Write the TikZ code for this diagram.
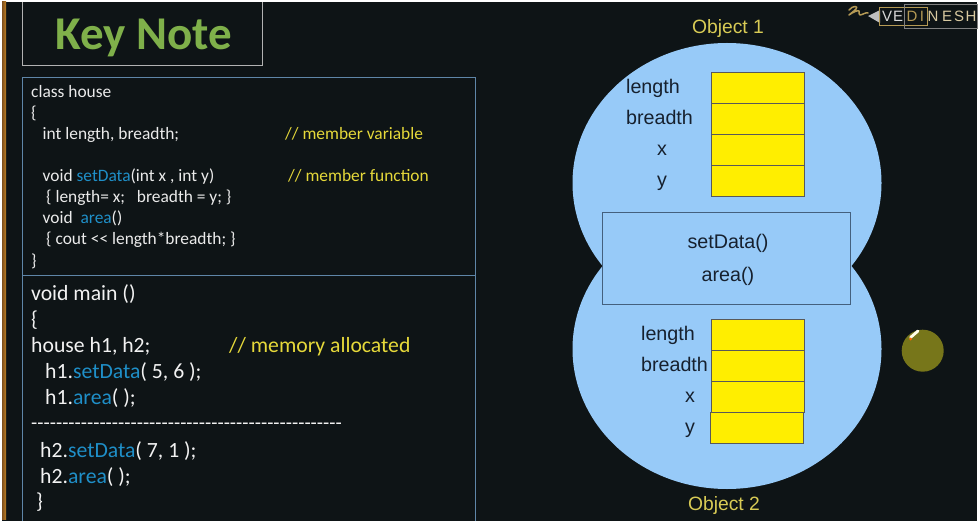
\documentclass[tikz,border=0pt]{standalone}
\usepackage{fontspec}
\setmainfont{Carlito}
\newfontfamily\arialfont{Liberation Sans}
\definecolor{bgdark}{HTML}{0E1416}
\definecolor{stripe}{HTML}{B5722A}
\definecolor{boxline}{HTML}{5F86A8}
\definecolor{midline}{HTML}{44607E}
\definecolor{keygreen}{HTML}{7FB04A}
\definecolor{codeblue}{HTML}{1F8FC8}
\definecolor{codeyellow}{HTML}{E6D93A}
\definecolor{objyellow}{HTML}{D8CB55}
\definecolor{skyblue}{HTML}{97CAF8}
\definecolor{cellyellow}{HTML}{FFEE00}
\definecolor{labeltext}{HTML}{16202E}
\definecolor{pointer}{HTML}{77761A}
\definecolor{logogold}{HTML}{B59A55}
\definecolor{logotan}{HTML}{D8C9A0}
\tikzset{
  codeA/.style={anchor=base west,inner sep=0pt,text=white!92!black,font=\fontsize{17.4}{17.4}\selectfont},
  codeB/.style={anchor=base west,inner sep=0pt,text=white!95!black,font=\fontsize{21.7}{21.7}\selectfont},
  objlabel/.style={anchor=base,inner sep=0pt,text=labeltext,font=\arialfont\fontsize{19.7}{19.7}\selectfont},
  objtitle/.style={anchor=base,inner sep=0pt,text=objyellow,font=\arialfont\fontsize{19.3}{19.3}\selectfont},
  cell/.style={draw=black!65,line width=0.7pt,fill=cellyellow,minimum width=93pt,minimum height=31pt,inner sep=0pt},
  panel/.style={draw=boxline,line width=0.9pt},
  logoch/.style={anchor=base,inner sep=0pt,font=\arialfont\fontsize{15}{15}\selectfont}
}
\newcommand{\cb}[1]{\textcolor{codeblue}{#1}}
\begin{document}
\begin{tikzpicture}[x=1pt,y=-1pt]
\useasboundingbox (0,0) rectangle (979,521);
\fill[white] (0,0) rectangle (979,521);
\fill[bgdark] (2,2) rectangle (977,521);
\shade[left color=stripe!70!black,right color=stripe!90!yellow] (2,2) rectangle (6,519);
% Title
\draw[white!70!black,line width=0.8pt] (22.5,2) -- (22.5,65.5) -- (262.5,65.5) -- (262.5,2);
\node[anchor=base,inner sep=0pt,text=keygreen,font=\fontsize{47}{47}\selectfont\bfseries] (keynote) at (143.5,50) {Key Note};
% Code panels
\draw[panel] (22.5,521) -- (22.5,77.5) -- (475.5,77.5) -- (475.5,521);
\draw[panel] (22.5,275) -- (475.5,275);
\node[codeA] (a1) at (31,98) {class house};
\node[codeA] (a2) at (31,119) {\{};
\node[codeA] (a3) at (42.5,140) {int length, breadth;};
\node[codeA,text=codeyellow] (a3c) at (285,140) {// member variable};
\node[codeA] (a4) at (42.5,182) {void \cb{setData}(int x , int y)};
\node[codeA,text=codeyellow] (a4c) at (288,182) {// member function};
\node[codeA] (a5) at (46,203) {\{ length= x;\ \ \ breadth = y; \}};
\node[codeA] (a6) at (42.5,224) {void\ \ \cb{area}()};
\node[codeA] (a7) at (46,245) {\{ cout <{}< length*breadth; \}};
\node[codeA] (a8) at (31,266) {\}};
\node[codeB] (b1) at (31,300) {void main ()};
\node[codeB] (b2) at (31,326) {\{};
\node[codeB] (b3) at (31,352) {house h1, h2;};
\node[codeB,text=codeyellow] (b3c) at (229,352) {// memory allocated};
\node[codeB] (b4) at (45,378) {h1.\cb{setData}( 5, 6 );};
\node[codeB] (b5) at (45,404) {h1.\cb{area}( );};
\node[codeB,font=\fontsize{20.3}{20.3}\selectfont] (b6) at (31,429.5) {-{}-{}-{}-{}-{}-{}-{}-{}-{}-{}-{}-{}-{}-{}-{}-{}-{}-{}-{}-{}-{}-{}-{}-{}-{}-{}-{}-{}-{}-{}-{}-{}-{}-{}-{}-{}-{}-{}-{}-{}-{}-{}-{}-{}-{}-{}-{}-{}-{}-{}};
\node[codeB] (b7) at (40,457) {h2.\cb{setData}( 7, 1 );};
\node[codeB] (b8) at (40,483) {h2.\cb{area}( );};
\node[codeB] (b9) at (36,508) {\}};
% Objects
\node[objtitle] (o1) at (728,34) {Object 1};
\node[objtitle] (o2) at (724,510.5) {Object 2};
\fill[skyblue] (727,183) ellipse (154.5 and 140);
\fill[skyblue] (727,349) ellipse (154.5 and 140);
\node[cell] (c1) at (758.3,88) {};
\node[cell] (c2) at (758.3,119) {};
\node[cell] (c3) at (758.3,150) {};
\node[cell] (c4) at (757.8,181) {};
\node[objlabel] (l1) at (653,94) {length};
\node[objlabel] (l2) at (659.5,125) {breadth};
\node[objlabel] (l3) at (662,156) {x};
\node[objlabel] (l4) at (662,187) {y};
\node[draw=midline,line width=0.9pt,fill=skyblue,minimum width=248pt,minimum height=92pt,inner sep=0pt] (mid) at (726.8,258) {};
\node[objlabel] (f1) at (728,248) {setData()};
\node[objlabel] (f2) at (728,281) {area()};
\node[cell] (d1) at (757.8,335.3) {};
\node[cell] (d2) at (757.8,366.3) {};
\node[cell] (d3) at (757.8,397.3) {};
\node[cell] (d4) at (756.8,428.3) {};
\node[objlabel] (m1) at (668,340.5) {length};
\node[objlabel] (m2) at (674.5,371.5) {breadth};
\node[objlabel] (m3) at (690,402.5) {x};
\node[objlabel] (m4) at (690,433.5) {y};
% Pointer
\fill[pointer] (922.7,350.7) circle (21);
\draw[white!90!yellow,line width=2.8pt,line cap=round] (910.5,337.5) -- (918,331);
\fill[orange!80!red] (910.5,339) circle (1.5);
% Logo
\draw[logogold,line width=1.5pt,line cap=round,line join=round] (849,10) .. controls (853,5) and (859,6) .. (856,9) .. controls (853,12) and (850,14) .. (849,15) .. controls (853,12) and (858,10) .. (859,11) .. controls (860,13) and (858,15) .. (860,15) .. controls (862,15) and (866,12) .. (868,13);
\fill[white!75!black] (868,16) -- (880,10) -- (880,23) -- cycle;
\draw[logogold,line width=0.9pt] (879,7.5) rectangle (927,25);
\draw[white!50!black,line width=0.9pt] (904.5,4.5) rectangle (977,28);
\node[logoch,text=white!85!black] (v1) at (887,22) {V};
\node[logoch,text=white!85!black] (v2) at (898,22) {E};
\node[logoch,text=logogold] (v3) at (912,22) {D};
\node[logoch,text=logogold] (v4) at (922,22) {I};
\node[logoch,text=logotan] (v5) at (933,22) {N};
\node[logoch,text=logotan] (v6) at (947,22) {E};
\node[logoch,text=logotan] (v7) at (959,22) {S};
\node[logoch,text=logotan] (v8) at (971,22) {H};
\end{tikzpicture}
\end{document}
